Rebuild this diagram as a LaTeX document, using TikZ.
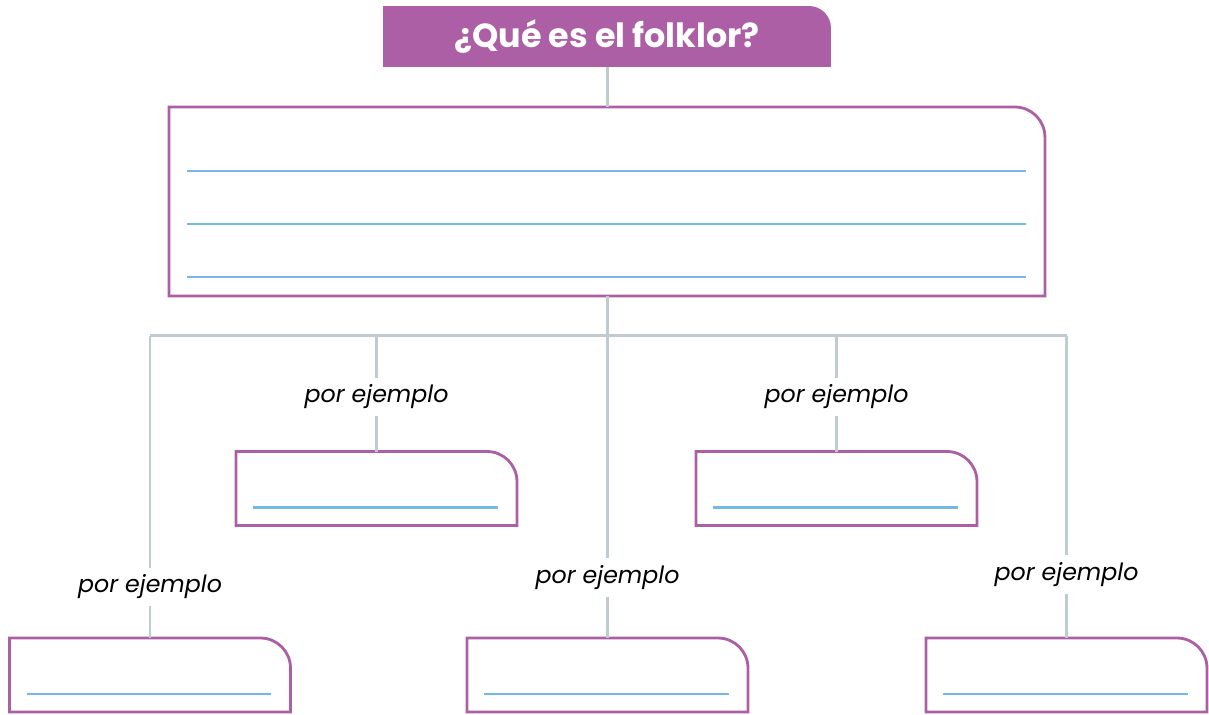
\documentclass[tikz,border=0pt]{standalone}
\usepackage{fontspec}
\setmainfont{Poppins}
\usetikzlibrary{positioning,calc,backgrounds}
\definecolor{lila}{HTML}{AC5FA5}
\definecolor{gris}{HTML}{BFCBCE}
\definecolor{celeste}{HTML}{74B8E4}
\tikzset{
  caja/.style={rectangle, draw=none, outer sep=0pt, inner sep=0pt, minimum width=#1},
  titulo/.style={caja=8.96cm, minimum height=1.22cm, text=white, font=\bfseries\fontsize{19}{22}\selectfont},
  granbox/.style={caja=17.52cm, minimum height=3.78cm},
  ejbox/.style={caja=5.62cm, minimum height=1.48cm},
  borde/.style={draw=lila, line width=1.6pt},
  rama/.style={draw=gris, line width=1.7pt},
  renglon/.style={draw=celeste, line width=1.4pt},
  ejemplo/.style={fill=white, inner sep=4pt, yshift=-0.06cm, font=\itshape\fontsize{13.5}{15}\selectfont, pos=#1},
  ejemplo/.default=0.5,
}
\newcommand{\marco}[2]{\draw[borde] (#1.south west) -- (#1.north west) [rounded corners=#2] -- (#1.north east) [sharp corners] -- (#1.south east) -- cycle;}
\begin{document}
\begin{tikzpicture}[x=0.02cm, y=-0.02cm]
  \useasboundingbox (0,0) rectangle (1209,714);
  \node[titulo] (tit) at (607,36.5) {¿Qué es el folklor?};
  \node[granbox] (gran) at (607,201.5) {};
  \node[ejbox] (ej2) at (376.5,488.5) {};
  \node[ejbox] (ej4) at (836.5,488.5) {};
  \node[ejbox] (ej1) at (150,675) {};
  \node[ejbox] (ej3) at (607.5,675) {};
  \node[ejbox] (ej5) at (1066.5,675) {};
  \begin{scope}[on background layer]
    \fill[lila] (tit.south west) -- (tit.north west) [rounded corners=0.44cm] -- (tit.north east) [sharp corners] -- (tit.south east) -- cycle;
  \end{scope}
  \marco{gran}{0.6cm}
  \foreach \n in {ej1,ej2,ej3,ej4,ej5} {
    \marco{\n}{0.6cm}
    \draw[renglon] ([shift={(17,-18)}]\n.south west) -- ([shift={(-19,-18)}]\n.south east);
  }
  \foreach \d in {19,72,125}
    \draw[renglon] ([shift={(18,-\d)}]gran.south west) -- ([shift={(-19,-\d)}]gran.south east);
  \draw[rama] (tit) -- (gran);
  \draw[rama] (gran.south) -- ++(0,40) coordinate (cruce);
  \draw[rama] (cruce -| ej1) -- (cruce -| ej5);
  \draw[rama] (cruce -| ej1) -- node[ejemplo=0.82] (p1) {por ejemplo} (ej1);
  \draw[rama] (cruce -| ej2) -- node[ejemplo] (p2) {por ejemplo} (ej2);
  \draw[rama] (cruce -| ej3) -- node[ejemplo=0.79] (p3) {por ejemplo} (ej3);
  \draw[rama] (cruce -| ej4) -- node[ejemplo] (p4) {por ejemplo} (ej4);
  \draw[rama] (cruce -| ej5) -- node[ejemplo=0.78] (p5) {por ejemplo} (ej5);
\end{tikzpicture}
\end{document}
